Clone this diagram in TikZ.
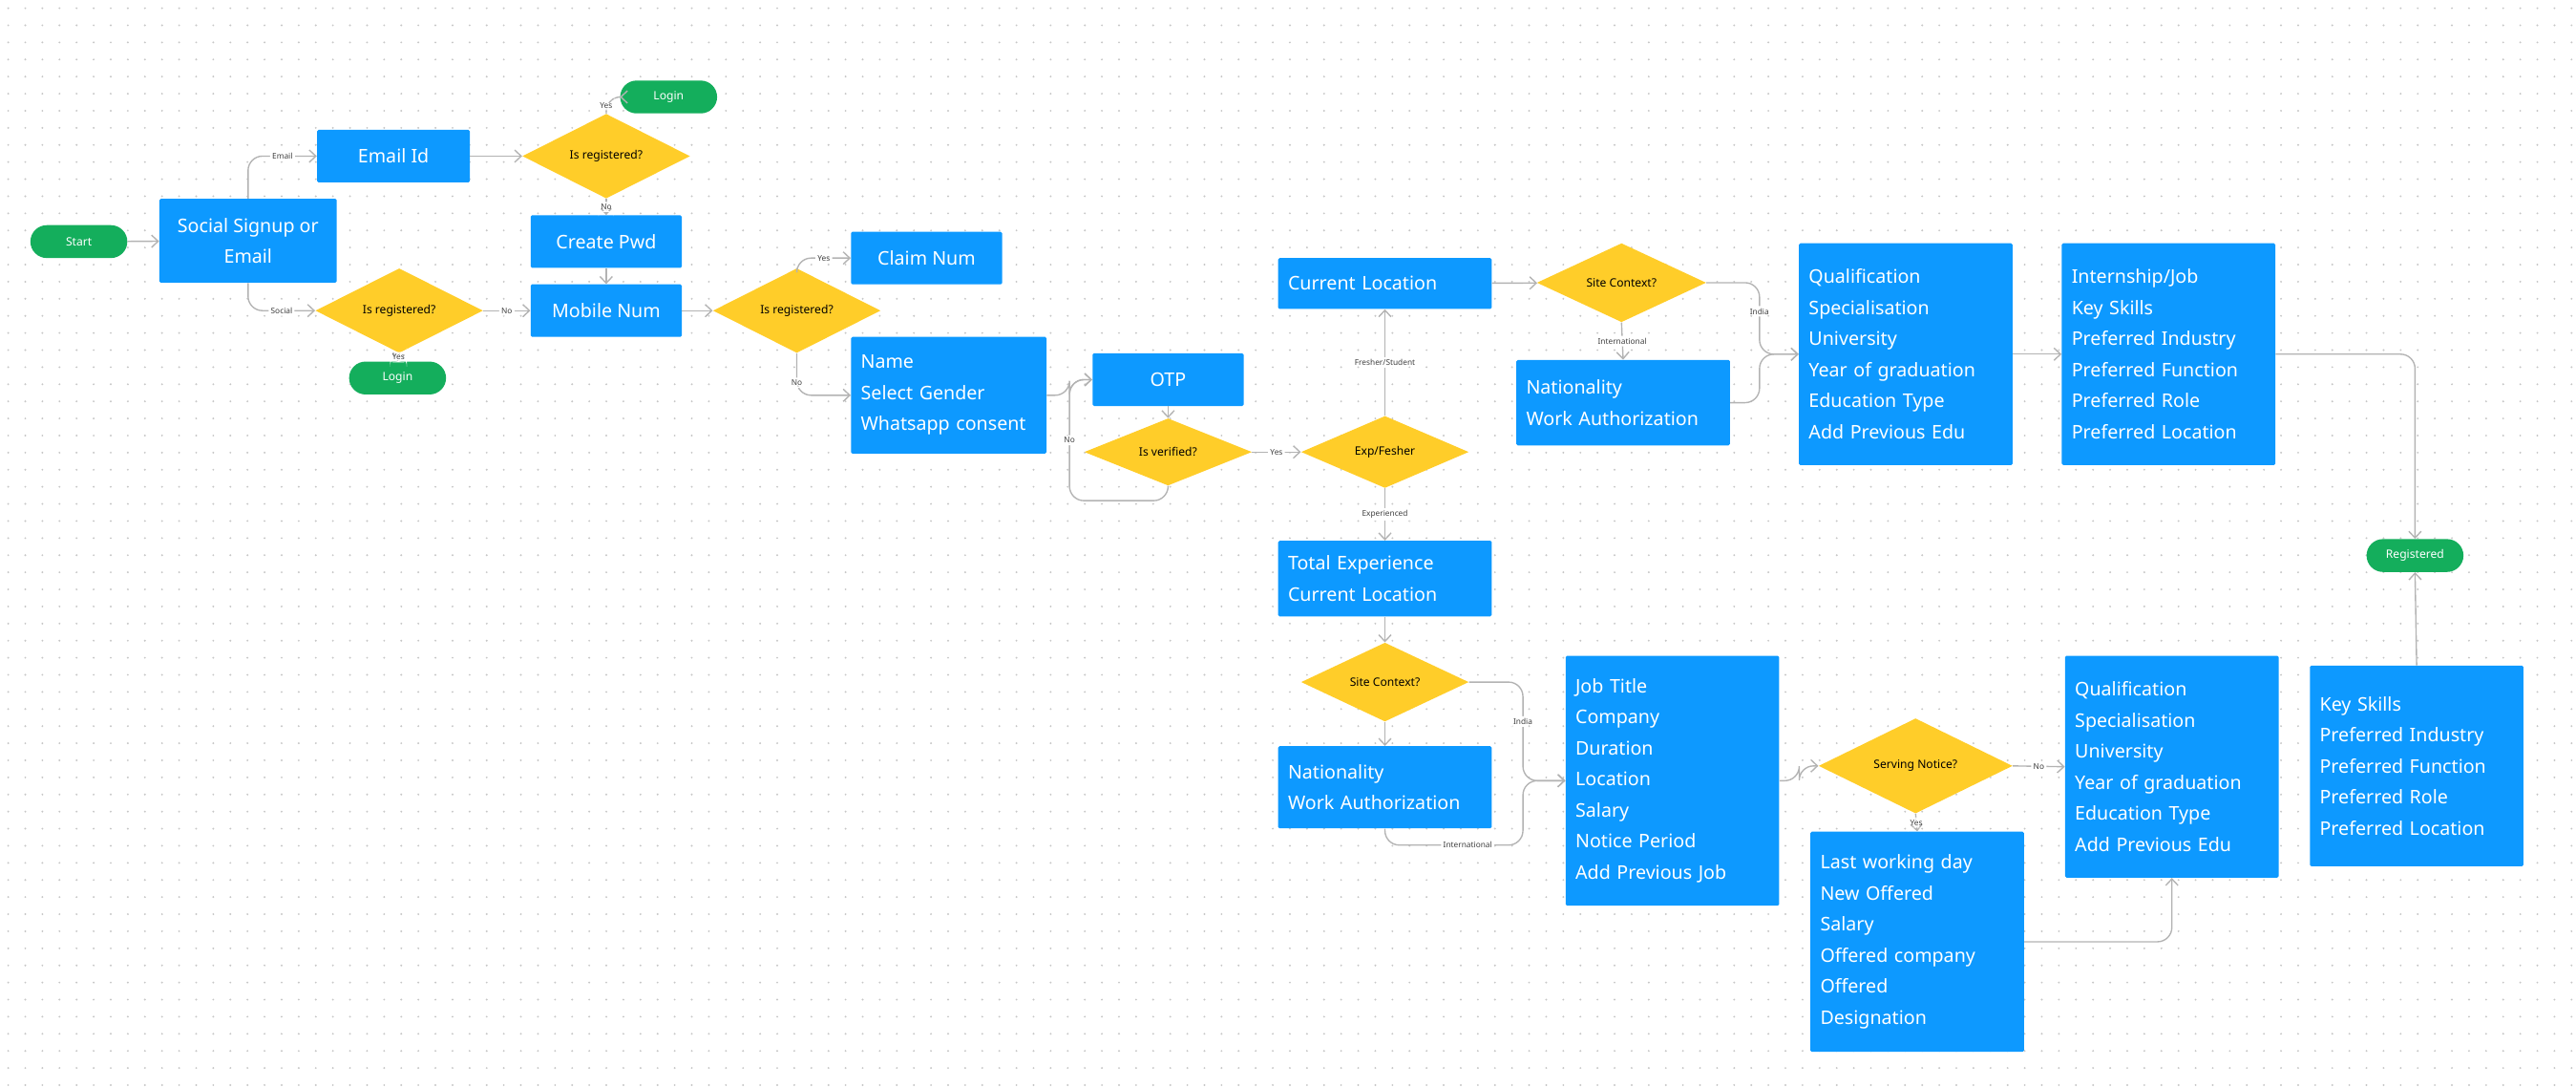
\documentclass[tikz,border=0pt]{standalone}
\usepackage{fontspec}
\setmainfont{Noto Sans}
\usetikzlibrary{shapes.geometric,shapes.misc,arrows.meta}
\definecolor{boxblue}{HTML}{0D99FF}
\definecolor{decyellow}{HTML}{FFCD29}
\definecolor{termgreen}{HTML}{14AE5C}
\definecolor{linegray}{HTML}{B3B3B3}
\tikzset{
  sz/.style 2 args={minimum width=#1*0.04cm, minimum height=#2*0.04cm},
  box/.style={fill=boxblue, text=white, inner sep=0pt, align=center,
    font=\fontsize{13pt}{21.5pt}\selectfont, rounded corners=1pt},
  lbox/.style 2 args={box, sz={#1}{#2}, text width=(#1-12)*0.04cm, align=left},
  dec/.style={diamond, fill=decyellow, inner sep=0pt, font=\fontsize{8pt}{9pt}\selectfont},
  term/.style={rounded rectangle, fill=termgreen, text=white, sz={59}{20}, inner sep=0pt,
    font=\fontsize{8pt}{9pt}\selectfont},
  conn/.style={draw=linegray, line width=0.9pt, rounded corners=0.35cm,
    -{Straight Barb[length=1.6mm,width=3mm]}},
  lbl/.style={fill=white, inner sep=1.5pt, font=\fontsize{5.5pt}{6pt}\selectfont, text=black!75}
}
\begin{document}
\begin{tikzpicture}[x=0.04cm, y=-0.04cm]
\useasboundingbox (0,0) rectangle (1568,661);
\fill[white] (0,0) rectangle (1568,661);
% dotted canvas
\foreach \y in {5,15.4,...,661}
  \draw[black!22, line width=0.05cm, line cap=round, dash pattern=on 0pt off 0.416cm] (5,\y) -- (1568,\y);

% signup part
\node[term] (start) at (48,147) {Start};
\node[box, sz={108}{51}] (social) at (151,146.5) {Social Signup or\\Email};
\node[box, sz={93}{32}] (email) at (239.5,95) {Email Id};
\node[dec, sz={102}{32}] (isreg1) at (369,95) {Is registered?};
\node[term] (login1) at (407,59) {Login};
\node[box, sz={92}{32}] (pwd) at (369,147) {Create Pwd};
\node[box, sz={92}{32}] (mobile) at (369,189) {Mobile Num};
\node[dec, sz={102}{32}] (isreg2) at (243,189) {Is registered?};
\node[term] (login2) at (242,230) {Login};
\node[dec, sz={102}{32}] (isreg3) at (485,189) {Is registered?};
\node[box, sz={92}{32}] (claim) at (564,157) {Claim Num};
\node[lbox={119}{71}] (name) at (577.5,240.5) {Name\\Select Gender\\Whatsapp consent};
\node[box, sz={92}{32}] (otp) at (711,231) {OTP};
\node[dec, sz={102}{32}] (isver) at (711,275) {Is verified?};
\node[dec, sz={102}{32}] (expfr) at (843,275) {Exp/Fesher};

% fresher branch
\node[lbox={130}{31}] (curloc) at (843,172.5) {Current Location};
\node[dec, sz={103}{31}] (siteA) at (987,172) {Site Context?};
\node[lbox={130}{52}] (natA) at (988,245) {Nationality\\Work Authorization};
\node[lbox={130}{135}] (qualA) at (1160,215.5) {Qualification\\Specialisation\\University\\Year of graduation\\Education Type\\Add Previous Edu};
\node[lbox={130}{135}] (intern) at (1320,215.5) {Internship/Job\\Key Skills\\Preferred Industry\\Preferred Function\\Preferred Role\\Preferred Location};
\node[term] (reg) at (1470,338) {Registered};

% experienced branch
\node[lbox={130}{46}] (totexp) at (843,352) {Total Experience\\Current Location};
\node[dec, sz={102}{30}] (siteB) at (843,415) {Site Context?};
\node[lbox={130}{50}] (natB) at (843,479) {Nationality\\Work Authorization};
\node[lbox={130}{152}] (job) at (1018,475) {Job Title\\Company\\Duration\\Location\\Salary\\Notice Period\\Add Previous Job};
\node[dec, sz={118}{32}] (notice) at (1166,466) {Serving Notice?};
\node[lbox={130}{134}] (lastday) at (1167,573) {Last working day\\New Offered\\Salary\\Offered company\\Offered\\Designation};
\node[lbox={130}{135}] (qualB) at (1322,466.5) {Qualification\\Specialisation\\University\\Year of graduation\\Education Type\\Add Previous Edu};
\node[lbox={130}{122}] (skills) at (1471,466) {Key Skills\\Preferred Industry\\Preferred Function\\Preferred Role\\Preferred Location};

\coordinate (otpin) at (651,231);
\coordinate (qualAin) at (1071,215.5);
\coordinate (jobin) at (927,475);

% connectors
\draw[conn] (start) -- (social);
\draw[conn] (social.north) |- node[lbl, pos=0.75] {Email} (email.west);
\draw[conn] (social.south) |- node[lbl, pos=0.75] {Social} (isreg2.west);
\draw[conn] (email) -- (isreg1);
\draw[conn] (isreg1.north) |- node[lbl, pos=0.25] {Yes} (login1.west);
\draw[conn] (isreg1.south) -- node[lbl] {No} (pwd.north);
\draw[conn] (pwd) -- (mobile);
\draw[conn] (isreg2.east) -- node[lbl] {No} (mobile.west);
\draw[conn] (isreg2.south) -- node[lbl] {Yes} (login2.north);
\draw[conn] (mobile) -- (isreg3);
\draw[conn] (isreg3.north) |- node[lbl, pos=0.75] {Yes} (claim.west);
\draw[conn] (isreg3.south) |- node[lbl, pos=0.35] {No} (name.west);
\draw[conn] (name.east) -| (otpin) -- (otp.west);
\draw[conn] (otp) -- (isver);
\draw[conn] (isver.south) -- ++(0,9) -| node[lbl, pos=0.75] {No} (otpin) -- (otp.west);
\draw[conn] (isver.east) -- node[lbl] {Yes} (expfr.west);
\draw[conn] (expfr.north) -- node[lbl] {Fresher/Student} (curloc.south);
\draw[conn] (expfr.south) -- node[lbl] {Experienced} (totexp.north);
\draw[conn] (curloc) -- (siteA);
\draw[conn] (siteA.south) -- node[lbl] {International} (natA.north);
\draw[conn] (siteA.east) -| node[lbl, pos=0.7] {India} (qualAin) -- (qualA.west);
\draw[conn] (natA.east) -| (qualAin) -- (qualA.west);
\draw[conn] (qualA) -- (intern);
\draw[conn] (intern.east) -| (reg.north);
\draw[conn] (skills.north) -- (reg.south);
\draw[conn] (totexp) -- (siteB);
\draw[conn] (siteB.south) -- (natB.north);
\draw[conn] (siteB.east) -| node[lbl, pos=0.7] {India} (jobin) -- (job.west);
\draw[conn] (natB.south) -- ++(0,10) -| node[lbl, pos=0.3] {International} (jobin) -- (job.west);
\draw[conn] (job.east) -- ++(12,0) |- (notice.west);
\draw[conn] (notice.east) -- node[lbl] {No} (qualB.west);
\draw[conn] (notice.south) -- node[lbl] {Yes} (lastday.north);
\draw[conn] (lastday.east) -| (qualB.south);
\end{tikzpicture}
\end{document}
